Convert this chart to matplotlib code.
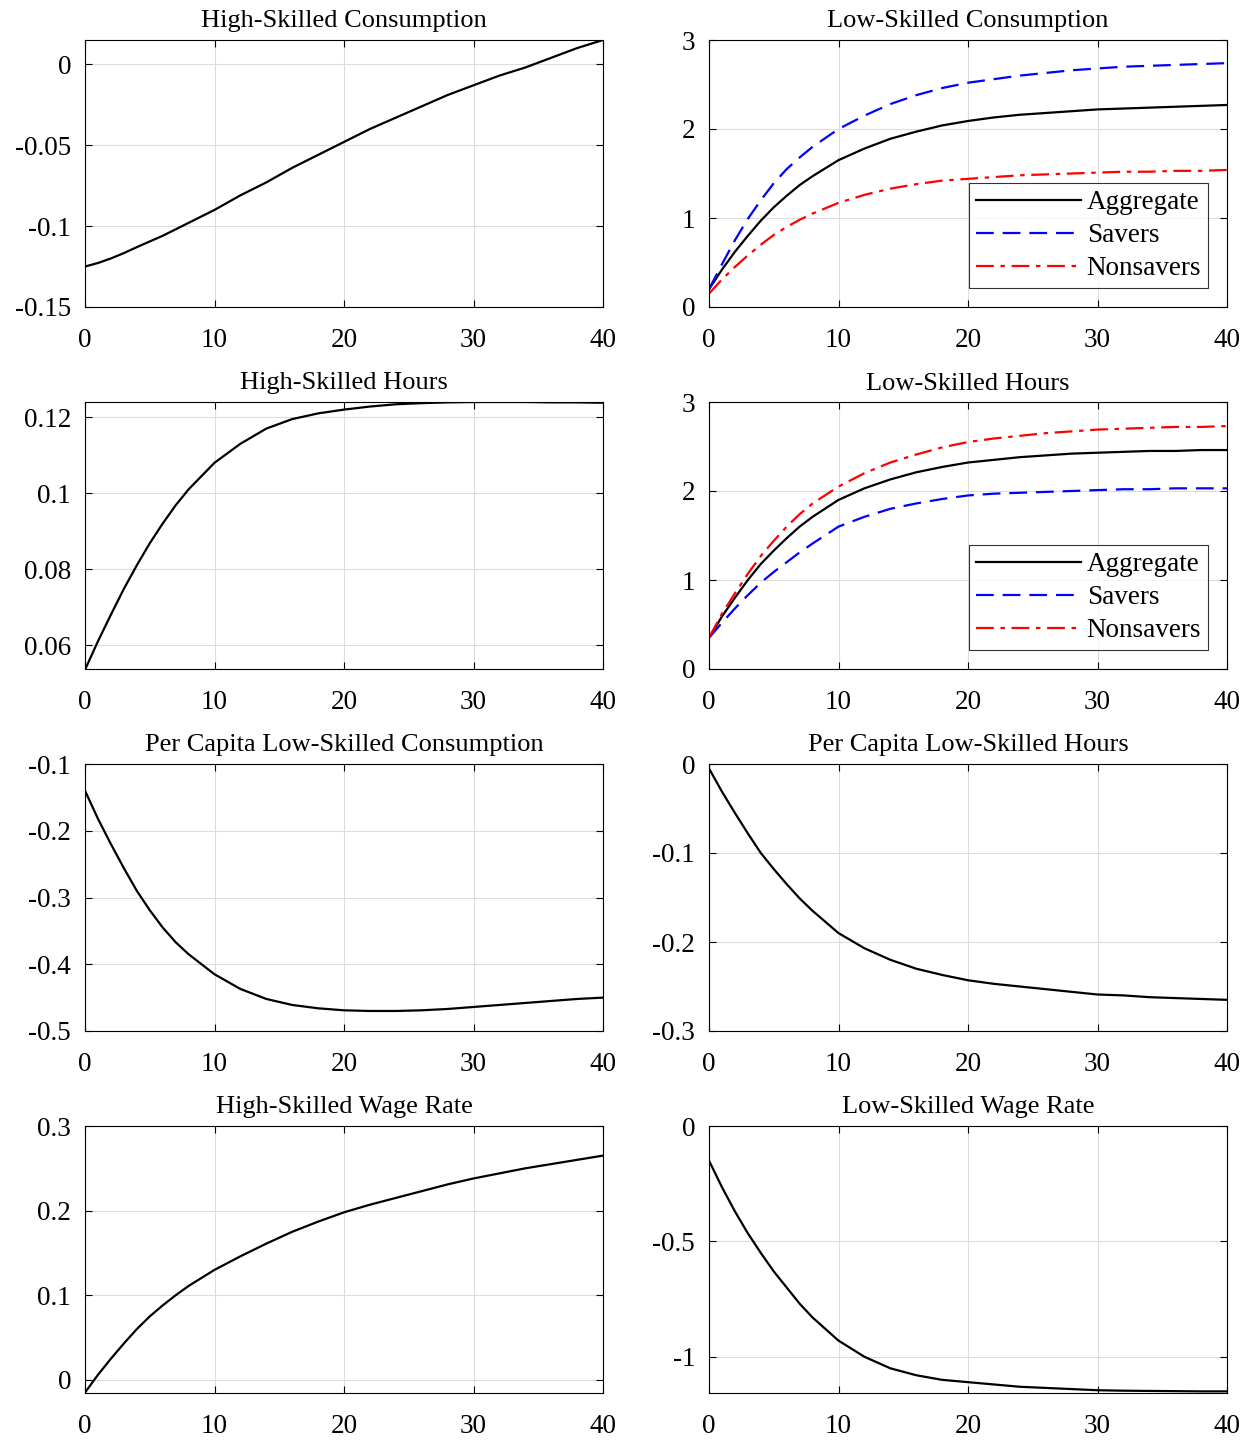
import numpy as np
import matplotlib.pyplot as plt
from matplotlib.ticker import FuncFormatter

plt.rcParams['font.family'] = ['Liberation Serif', 'DejaVu Serif']

t = [0, 1, 2, 3, 4, 5, 6, 7, 8, 10, 12, 14, 16, 18, 20, 22, 24, 26, 28, 30, 32, 34, 36, 38, 40]

hs_cons = [-0.125, -0.1228, -0.120, -0.1167, -0.113, -0.1095, -0.106, -0.102, -0.098, -0.090, -0.081,
           -0.073, -0.064, -0.056, -0.048, -0.040, -0.033, -0.026, -0.019, -0.013, -0.007, -0.002,
           0.004, 0.010, 0.015]
ls_cons_agg = [0.2, 0.42, 0.62, 0.80, 0.97, 1.12, 1.25, 1.37, 1.47, 1.65, 1.78, 1.89, 1.97, 2.04, 2.09,
               2.13, 2.16, 2.18, 2.20, 2.22, 2.23, 2.24, 2.25, 2.26, 2.27]
ls_cons_sav = [0.2, 0.48, 0.75, 0.99, 1.2, 1.39, 1.55, 1.68, 1.8, 2.0, 2.15, 2.28, 2.38, 2.46, 2.52,
               2.56, 2.6, 2.63, 2.66, 2.68, 2.7, 2.71, 2.72, 2.73, 2.74]
ls_cons_non = [0.15, 0.31, 0.45, 0.58, 0.7, 0.81, 0.9, 0.98, 1.05, 1.17, 1.26, 1.33, 1.38, 1.42, 1.44,
               1.46, 1.48, 1.49, 1.5, 1.51, 1.52, 1.52, 1.53, 1.53, 1.54]
hs_hours = [0.0535, 0.061, 0.068, 0.0748, 0.081, 0.0868, 0.092, 0.0968, 0.101, 0.108, 0.113, 0.117,
            0.1195, 0.121, 0.122, 0.1228, 0.1234, 0.1237, 0.1239, 0.124, 0.124, 0.124, 0.1239,
            0.1239, 0.1238]
ls_hours_agg = [0.35, 0.59, 0.8, 1.0, 1.18, 1.33, 1.47, 1.6, 1.71, 1.9, 2.03, 2.13, 2.21, 2.27, 2.32,
                2.35, 2.38, 2.40, 2.42, 2.43, 2.44, 2.45, 2.45, 2.46, 2.46]
ls_hours_sav = [0.35, 0.52, 0.68, 0.83, 0.97, 1.09, 1.2, 1.31, 1.41, 1.6, 1.71, 1.8, 1.86, 1.91, 1.95,
                1.97, 1.98, 1.99, 2.0, 2.01, 2.02, 2.02, 2.03, 2.03, 2.03]
ls_hours_non = [0.35, 0.62, 0.85, 1.07, 1.27, 1.44, 1.6, 1.74, 1.86, 2.05, 2.2, 2.32, 2.41, 2.49, 2.55,
                2.59, 2.62, 2.65, 2.67, 2.69, 2.70, 2.71, 2.72, 2.72, 2.73]
pc_ls_cons = [-0.14, -0.182, -0.22, -0.256, -0.29, -0.319, -0.345, -0.367, -0.385, -0.415, -0.437,
              -0.452, -0.461, -0.466, -0.469, -0.47, -0.47, -0.469, -0.467, -0.464, -0.461, -0.458,
              -0.455, -0.452, -0.45]
pc_ls_hours = [-0.005, -0.031, -0.055, -0.078, -0.1, -0.118, -0.135, -0.151, -0.165, -0.19, -0.207,
               -0.22, -0.23, -0.237, -0.243, -0.247, -0.25, -0.253, -0.256, -0.259, -0.26, -0.262,
               -0.263, -0.264, -0.265]
hs_wage = [-0.015, 0.006, 0.025, 0.043, 0.06, 0.075, 0.088, 0.1, 0.111, 0.13, 0.146, 0.161, 0.175,
           0.187, 0.198, 0.207, 0.215, 0.223, 0.231, 0.238, 0.244, 0.250, 0.255, 0.260, 0.265]
ls_wage = [-0.15, -0.265, -0.37, -0.465, -0.55, -0.63, -0.7, -0.77, -0.83, -0.93, -1.0, -1.05, -1.08,
           -1.1, -1.11, -1.12, -1.13, -1.135, -1.14, -1.145, -1.147, -1.148, -1.149, -1.15, -1.15]

fig = plt.figure(figsize=(12.54, 14.4), dpi=100)
W, H = 1254, 1440
lefts = [85, 709]
tops = [40, 402, 764, 1126]
aw, ah = 518, 267

fmt = FuncFormatter(lambda v, p: '%g' % round(v, 6))

def make_ax(r, c, title, ylim, yticks):
    ax = fig.add_axes([lefts[c] / W, 1 - (tops[r] + ah) / H, aw / W, ah / H])
    ax.set_xlim(0, 40)
    ax.set_xticks([0, 10, 20, 30, 40])
    ax.set_ylim(*ylim)
    ax.set_yticks(yticks)
    ax.yaxis.set_major_formatter(fmt)
    ax.grid(True, color='#dcdcdc', linewidth=0.8)
    ax.tick_params(direction='in', top=True, right=True, length=5, labelsize=19.5)
    ax.tick_params(axis='x', pad=15)
    ax.tick_params(axis='y', pad=10)
    ax.set_title(title, fontsize=19, pad=9)
    for s in ax.spines.values():
        s.set_linewidth(0.8)
    return ax

def add_legend(ax):
    leg = ax.legend(loc='lower right', fontsize=19.5, fancybox=False, edgecolor='k',
                    borderaxespad=0.7, handlelength=3.9, handletextpad=0.2,
                    labelspacing=0.3, borderpad=0.25)
    leg.get_frame().set_linewidth(0.8)

ax = make_ax(0, 0, 'High-Skilled Consumption', (-0.15, 0.015), [-0.15, -0.1, -0.05, 0])
ax.plot(t, hs_cons, 'k', lw=1.6)

ax = make_ax(0, 1, 'Low-Skilled Consumption', (0, 3), [0, 1, 2, 3])
ax.plot(t, ls_cons_agg, 'k', lw=1.6, label='Aggregate')
ax.plot(t, ls_cons_sav, color='b', ls=(0, (8, 4)), lw=1.6, label='Savers')
ax.plot(t, ls_cons_non, color='r', ls=(0, (8, 3, 2, 3)), lw=1.6, label='Nonsavers')
add_legend(ax)

ax = make_ax(1, 0, 'High-Skilled Hours', (0.0537, 0.124), [0.06, 0.08, 0.1, 0.12])
ax.plot(t, hs_hours, 'k', lw=1.6)

ax = make_ax(1, 1, 'Low-Skilled Hours', (0, 3), [0, 1, 2, 3])
ax.plot(t, ls_hours_agg, 'k', lw=1.6, label='Aggregate')
ax.plot(t, ls_hours_sav, color='b', ls=(0, (8, 4)), lw=1.6, label='Savers')
ax.plot(t, ls_hours_non, color='r', ls=(0, (8, 3, 2, 3)), lw=1.6, label='Nonsavers')
add_legend(ax)

ax = make_ax(2, 0, 'Per Capita Low-Skilled Consumption', (-0.5, -0.1), [-0.5, -0.4, -0.3, -0.2, -0.1])
ax.plot(t, pc_ls_cons, 'k', lw=1.6)

ax = make_ax(2, 1, 'Per Capita Low-Skilled Hours', (-0.3, 0), [-0.3, -0.2, -0.1, 0])
ax.plot(t, pc_ls_hours, 'k', lw=1.6)

ax = make_ax(3, 0, 'High-Skilled Wage Rate', (-0.0155, 0.3), [0, 0.1, 0.2, 0.3])
ax.plot(t, hs_wage, 'k', lw=1.6)

ax = make_ax(3, 1, 'Low-Skilled Wage Rate', (-1.157, 0), [-1, -0.5, 0])
ax.plot(t, ls_wage, 'k', lw=1.6)

fig.savefig('out.png', dpi=100)
